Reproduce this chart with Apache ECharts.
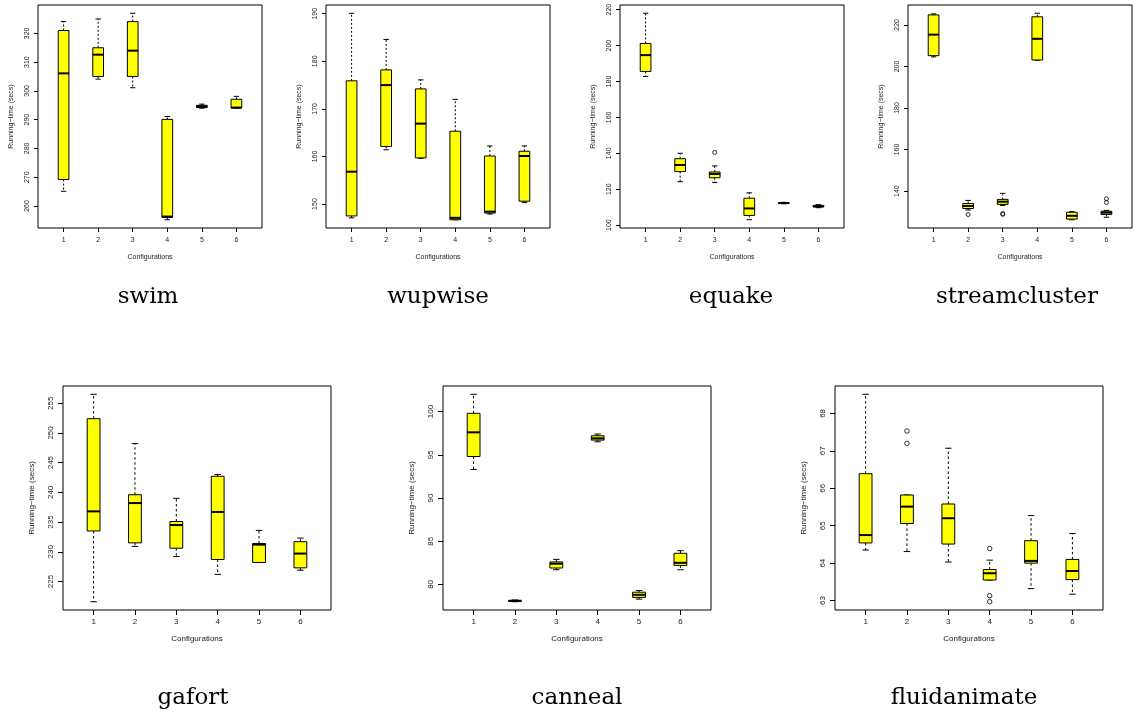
<!DOCTYPE html>
<html>
<head>
<meta charset="utf-8">
<script src="https://cdn.jsdelivr.net/npm/echarts@6/dist/echarts.min.js"></script>
<style>
  html, body { margin: 0; padding: 0; background: #fff; }
  #chart { width: 1134px; height: 719px; }
</style>
</head>
<body>
<div id="chart"></div>
<script>
// Configurations on the x axis of every panel
const configurations = ['1', '2', '3', '4', '5', '6'];

// Five-number summaries per configuration: [lower whisker, Q1, median, Q3, upper whisker]
const swimStats = [
  [265.1, 269.2, 306.1, 321.0, 324.1],
  [304.1, 305.0, 312.6, 315.0, 325.0],
  [301.1, 305.0, 314.0, 324.1, 327.0],
  [255.2, 256.0, 256.3, 290.1, 291.1],
  [294.0, 294.2, 294.6, 295.0, 295.4],
  [294.0, 294.1, 294.2, 297.1, 298.1]
];
const swimOutliers = [];
const swimTicks = [260, 270, 280, 290, 300, 310, 320];

const wupwiseStats = [
  [147.1, 147.5, 156.8, 175.9, 190.1],
  [161.4, 162.1, 175.0, 178.2, 184.6],
  [159.6, 159.7, 166.9, 174.2, 176.1],
  [146.7, 146.7, 147.1, 165.3, 172.0],
  [147.9, 148.1, 148.4, 160.1, 162.2],
  [150.3, 150.6, 160.1, 161.1, 162.2]
];
const wupwiseOutliers = [];
const wupwiseTicks = [150, 160, 170, 180, 190];

const equakeStats = [
  [182.8, 185.6, 194.7, 201.2, 218.0],
  [124.2, 129.8, 133.5, 137.0, 140.0],
  [123.8, 126.4, 128.5, 129.6, 133.0],
  [103.0, 105.4, 109.3, 115.0, 118.0],
  [111.9, 112.1, 112.3, 112.5, 112.7],
  [109.7, 110.1, 110.5, 111.0, 111.4]
];
const equakeOutliers = [[3, 140.5]];
const equakeTicks = [100, 120, 140, 160, 180, 200, 220];

const streamclusterStats = [
  [204.6, 205.2, 215.3, 224.8, 225.3],
  [130.9, 131.6, 132.8, 134.0, 135.5],
  [133.1, 133.6, 134.9, 136.0, 138.9],
  [203.0, 203.1, 213.3, 223.9, 225.6],
  [126.2, 126.5, 128.1, 129.8, 130.1],
  [127.4, 128.7, 129.6, 130.3, 130.7]
];
const streamclusterOutliers = [[2, 128.7], [3, 129.2], [3, 128.8], [6, 134.5], [6, 136.3]];
const streamclusterTicks = [140, 160, 180, 200, 220];

const gafortStats = [
  [221.6, 233.5, 236.8, 252.4, 256.5],
  [230.9, 231.5, 238.2, 239.6, 248.2],
  [229.2, 230.6, 234.5, 235.1, 239.0],
  [226.2, 228.7, 236.7, 242.7, 243.0],
  [228.2, 228.2, 231.2, 231.4, 233.6],
  [226.9, 227.3, 229.7, 231.7, 232.3]
];
const gafortOutliers = [];
const gafortTicks = [225, 230, 235, 240, 245, 250, 255];

const cannealStats = [
  [93.3, 94.8, 97.6, 99.8, 102.0],
  [78.0, 78.05, 78.1, 78.15, 78.2],
  [81.7, 81.9, 82.4, 82.6, 82.9],
  [96.5, 96.7, 96.9, 97.2, 97.4],
  [78.3, 78.5, 78.8, 79.1, 79.3],
  [81.7, 82.2, 82.5, 83.6, 83.9]
];
const cannealOutliers = [];
const cannealTicks = [80, 85, 90, 95, 100];

const fluidanimateStats = [
  [64.35, 64.54, 64.75, 66.39, 68.51],
  [64.31, 65.06, 65.51, 65.82, 65.82],
  [64.03, 64.51, 65.20, 65.58, 67.07],
  [63.55, 63.55, 63.73, 63.83, 64.08],
  [63.32, 64.00, 64.06, 64.60, 65.27],
  [63.17, 63.56, 63.79, 64.10, 64.79]
];
const fluidanimateOutliers = [[2, 67.20], [2, 67.53], [4, 64.39], [4, 63.13], [4, 62.97]];
const fluidanimateTicks = [63, 64, 65, 66, 67, 68];

const yAxisTitle = 'Running\u2212time (secs)';
const xAxisTitle = 'Configurations';

// Panels: benchmark name, its data, and where its plot frame sits
const panels = [
  { name: 'swim', stats: swimStats, outliers: swimOutliers, ticks: swimTicks, row: 0, left: 38, titleX: 148 },
  { name: 'wupwise', stats: wupwiseStats, outliers: wupwiseOutliers, ticks: wupwiseTicks, row: 0, left: 326, titleX: 438 },
  { name: 'equake', stats: equakeStats, outliers: equakeOutliers, ticks: equakeTicks, row: 0, left: 620, titleX: 731 },
  { name: 'streamcluster', stats: streamclusterStats, outliers: streamclusterOutliers, ticks: streamclusterTicks, row: 0, left: 908, titleX: 1017 },
  { name: 'gafort', stats: gafortStats, outliers: gafortOutliers, ticks: gafortTicks, row: 1, left: 63, titleX: 193 },
  { name: 'canneal', stats: cannealStats, outliers: cannealOutliers, ticks: cannealTicks, row: 1, left: 443, titleX: 577 },
  { name: 'fluidanimate', stats: fluidanimateStats, outliers: fluidanimateOutliers, ticks: fluidanimateTicks, row: 1, left: 835, titleX: 964 }
];

// Row-specific sizes (top row panels are drawn slightly smaller)
const rows = [
  { top: 5, width: 224, height: 223, font: 7, tick: 4, yLabelMargin: 7, yNameGap: 23, xLabelMargin: 9, xNameGap: 26, titleY: 297, dash: [2, 2], symbol: 4 },
  { top: 386, width: 268, height: 224, font: 8, tick: 5, yLabelMargin: 8, yNameGap: 27, xLabelMargin: 8, xNameGap: 25, titleY: 698, dash: [2.5, 2.5], symbol: 4.5 }
];

const BOX_WIDTH = 0.31;      // in x-axis units
const AXIS_FONT = '"Liberation Sans", Arial, Helvetica, sans-serif';
const TITLE_FONT = '"DejaVu Serif", "Liberation Serif", serif';

// Data range padded by 4% on both sides, as in R's default axis style
function paddedRange(values) {
  const lo = Math.min.apply(null, values), hi = Math.max.apply(null, values);
  const pad = (hi - lo) * 0.04;
  return [lo - pad, hi + pad];
}

function makeBoxRenderer(dash) {
  return function (params, api) {
    const x = api.value(0);
    const low = api.coord([x, api.value(1)]);
    const q1 = api.coord([x, api.value(2)]);
    const med = api.coord([x, api.value(3)]);
    const q3 = api.coord([x, api.value(4)]);
    const high = api.coord([x, api.value(5)]);
    const w = api.size([BOX_WIDTH, 0])[0];
    const cx = med[0];
    const solid = { stroke: '#000', lineWidth: 1 };
    const dashed = { stroke: '#000', lineWidth: 1, lineDash: dash };
    return {
      type: 'group',
      children: [
        { type: 'line', shape: { x1: cx, y1: q3[1], x2: cx, y2: high[1] }, style: dashed },
        { type: 'line', shape: { x1: cx, y1: q1[1], x2: cx, y2: low[1] }, style: dashed },
        { type: 'line', shape: { x1: cx - w / 4, y1: high[1], x2: cx + w / 4, y2: high[1] }, style: solid },
        { type: 'line', shape: { x1: cx - w / 4, y1: low[1], x2: cx + w / 4, y2: low[1] }, style: solid },
        { type: 'rect', shape: { x: cx - w / 2, y: q3[1], width: w, height: Math.max(q1[1] - q3[1], 0.5) },
          style: { fill: '#ffff00', stroke: '#000', lineWidth: 1 } },
        { type: 'line', shape: { x1: cx - w / 2, y1: med[1], x2: cx + w / 2, y2: med[1] },
          style: { stroke: '#000', lineWidth: 2 } }
      ]
    };
  };
}

const xRange = paddedRange([0.5, configurations.length + 0.5]);
const xTickValues = configurations.map((c, i) => i + 1);

const option = {
  animation: false,
  backgroundColor: '#fff',
  grid: [], xAxis: [], yAxis: [], series: [], graphic: []
};

panels.forEach((p, k) => {
  const r = rows[p.row];
  const allValues = [].concat.apply([], p.stats).concat(p.outliers.map(o => o[1]));
  const yRange = paddedRange(allValues);

  option.grid.push({
    left: p.left, top: r.top, width: r.width, height: r.height,
    show: true, borderColor: '#000', borderWidth: 1, backgroundColor: 'transparent'
  });

  option.xAxis.push({
    type: 'value', gridIndex: k, min: xRange[0], max: xRange[1],
    name: xAxisTitle, nameLocation: 'middle', nameGap: r.xNameGap,
    nameTextStyle: { fontSize: r.font, fontFamily: AXIS_FONT, color: '#222' },
    axisLine: { show: false },
    splitLine: { show: false },
    axisTick: { show: true, length: r.tick, customValues: xTickValues, lineStyle: { color: '#000', width: 1 } },
    axisLabel: {
      customValues: xTickValues, margin: r.xLabelMargin, fontSize: r.font, fontFamily: AXIS_FONT, color: '#222',
      formatter: v => configurations[Math.round(v) - 1]
    }
  });

  option.yAxis.push({
    type: 'value', gridIndex: k, min: yRange[0], max: yRange[1],
    name: yAxisTitle, nameLocation: 'middle', nameGap: r.yNameGap, nameRotate: 90,
    nameTextStyle: { fontSize: r.font, fontFamily: AXIS_FONT, color: '#222' },
    axisLine: { show: false },
    splitLine: { show: false },
    axisTick: { show: true, length: r.tick, customValues: p.ticks, lineStyle: { color: '#000', width: 1 } },
    axisLabel: {
      customValues: p.ticks, rotate: 90, margin: r.yLabelMargin, fontSize: r.font, fontFamily: AXIS_FONT, color: '#222'
    }
  });

  option.series.push({
    type: 'custom', name: p.name, xAxisIndex: k, yAxisIndex: k,
    renderItem: makeBoxRenderer(r.dash),
    encode: { x: 0, y: [1, 2, 3, 4, 5] },
    data: p.stats.map((s, i) => [i + 1].concat(s)),
    z: 2
  });

  if (p.outliers.length) {
    option.series.push({
      type: 'scatter', xAxisIndex: k, yAxisIndex: k,
      symbol: 'circle', symbolSize: r.symbol,
      itemStyle: { color: 'rgba(0,0,0,0)', borderColor: '#000', borderWidth: 1 },
      data: p.outliers,
      z: 3
    });
  }

  option.graphic.push({
    type: 'text', x: p.titleX, y: r.titleY,
    style: {
      text: p.name, fill: '#000',
      font: '23px ' + TITLE_FONT,
      align: 'center', verticalAlign: 'middle',
      textAlign: 'center', textVerticalAlign: 'middle'
    }
  });
});

const chart = echarts.init(document.getElementById('chart'), null, { renderer: 'canvas' });
chart.setOption(option);
</script>
</body>
</html>
